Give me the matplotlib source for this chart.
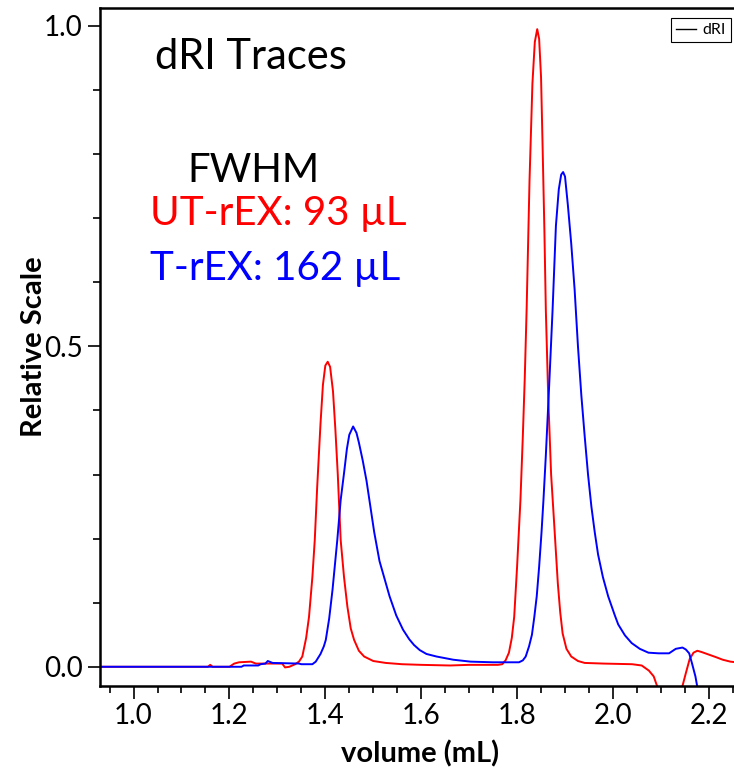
import matplotlib
matplotlib.use('Agg')
import matplotlib.pyplot as plt
from matplotlib.lines import Line2D
from matplotlib.ticker import MultipleLocator, FormatStrFormatter

plt.rcParams['font.family'] = ['Lato', 'DejaVu Sans']

# UT-rEX trace (red)
ut_vol = [0.93, 1.155, 1.16, 1.165, 1.20, 1.21, 1.22, 1.245, 1.255, 1.31, 1.316, 1.325,
          1.337, 1.345, 1.352, 1.360, 1.366, 1.373, 1.378, 1.383, 1.390, 1.395, 1.400,
          1.405, 1.410, 1.416, 1.421, 1.426, 1.432, 1.439, 1.446, 1.453, 1.460, 1.470,
          1.481, 1.50, 1.526, 1.56, 1.60, 1.66, 1.70, 1.76, 1.769, 1.776, 1.783, 1.789,
          1.794, 1.800, 1.807, 1.812, 1.816, 1.820, 1.826, 1.832, 1.837, 1.842, 1.846,
          1.850, 1.853, 1.857, 1.860, 1.865, 1.871, 1.876, 1.885, 1.890, 1.895, 1.903,
          1.913, 1.927, 1.941, 1.98, 2.04, 2.06, 2.075, 2.085, 2.092, 2.096, 2.138, 2.145,
          2.152, 2.160, 2.168, 2.176, 2.185, 2.20, 2.215, 2.229, 2.245, 2.27]
ut_dri = [0.0, 0.0, 0.003, 0.0, 0.0, 0.005, 0.007, 0.008, 0.005, 0.005, -0.001, 0.0,
          0.004, 0.008, 0.016, 0.045, 0.078, 0.14, 0.198, 0.28, 0.38, 0.44, 0.47,
          0.476, 0.468, 0.43, 0.37, 0.30, 0.198, 0.14, 0.094, 0.06, 0.042, 0.025,
          0.016, 0.009, 0.006, 0.004, 0.003, 0.002, 0.003, 0.003, 0.004, 0.01, 0.022, 0.045,
          0.078, 0.156, 0.26, 0.36, 0.45, 0.56, 0.76, 0.91, 0.975, 0.995, 0.98,
          0.92, 0.82, 0.68, 0.556, 0.42, 0.30, 0.24, 0.13, 0.085, 0.052, 0.028,
          0.016, 0.009, 0.006, 0.005, 0.004, 0.002, -0.006, -0.015, -0.03, -0.05, -0.05, -0.03,
          -0.01, 0.012, 0.022, 0.025, 0.023, 0.019, 0.015, 0.011, 0.008, 0.006]

# T-rEX trace (blue)
t_vol = [0.93, 1.225, 1.23, 1.26, 1.265, 1.275, 1.28, 1.29, 1.345, 1.35, 1.373, 1.380,
         1.390, 1.397, 1.401, 1.408, 1.415, 1.425, 1.432, 1.439, 1.445, 1.450,
         1.458, 1.465, 1.470, 1.478, 1.486, 1.495, 1.502, 1.513, 1.534, 1.548, 1.562,
         1.575, 1.585, 1.597, 1.611, 1.632, 1.667, 1.703, 1.75, 1.804, 1.812, 1.818,
         1.825, 1.831, 1.836, 1.841, 1.846, 1.851, 1.855, 1.860, 1.867, 1.874, 1.881, 1.887,
         1.892, 1.896, 1.900, 1.906, 1.913, 1.920, 1.927, 1.934, 1.941, 1.948, 1.955,
         1.962, 1.969, 1.979, 1.990, 2.004, 2.011, 2.025, 2.039, 2.056, 2.074, 2.095,
         2.117, 2.131, 2.145, 2.152, 2.159, 2.165, 2.172, 2.178]
t_dri = [0.0, 0.0, 0.002, 0.002, 0.004, 0.005, 0.009, 0.006, 0.005, 0.004, 0.004, 0.008,
         0.02, 0.032, 0.042, 0.075, 0.12, 0.198, 0.26, 0.302, 0.34, 0.362,
         0.375, 0.365, 0.35, 0.322, 0.29, 0.245, 0.21, 0.165, 0.11, 0.08, 0.058,
         0.043, 0.034, 0.026, 0.020, 0.016, 0.011, 0.008, 0.007, 0.007, 0.01, 0.016,
         0.032, 0.05, 0.078, 0.11, 0.156, 0.21, 0.26, 0.33, 0.44, 0.556, 0.688, 0.745,
         0.768, 0.772, 0.765, 0.72, 0.66, 0.589, 0.50, 0.424, 0.36, 0.30, 0.25,
         0.21, 0.175, 0.14, 0.11, 0.08, 0.066, 0.049, 0.037, 0.028, 0.022, 0.021,
         0.021, 0.028, 0.030, 0.027, 0.021, 0.005, -0.015, -0.04]

fig = plt.figure(figsize=(7.34, 7.69), dpi=100)
ax = fig.add_axes([100 / 734, 83 / 769, 640 / 734, 678 / 769])

ax.plot(ut_vol, ut_dri, color='#ff0000', lw=1.4)
ax.plot(t_vol, t_dri, color='#0000ff', lw=1.4)

ax.set_xlim(0.93, 2.265)
ax.set_ylim(-0.03, 1.028)

ax.xaxis.set_major_locator(MultipleLocator(0.2))
ax.xaxis.set_minor_locator(MultipleLocator(0.05))
ax.yaxis.set_major_locator(MultipleLocator(0.5))
ax.yaxis.set_minor_locator(MultipleLocator(0.1))
ax.xaxis.set_major_formatter(FormatStrFormatter('%.1f'))
ax.yaxis.set_major_formatter(FormatStrFormatter('%.1f'))
ax.tick_params(which='major', length=9, width=1.2, labelsize=20, direction='out')
ax.tick_params(which='minor', length=5, width=1.2, direction='out')

for s in ax.spines.values():
    s.set_linewidth(1.8)

ax.set_xlabel('volume (mL)', fontsize=21, fontweight='bold', labelpad=8)
ax.set_ylabel('Relative Scale', fontsize=21, fontweight='bold', labelpad=-2)

handle = Line2D([], [], color='black', lw=1)
leg = ax.legend([handle], ['dRI'], loc='upper right', bbox_to_anchor=(0.986, 0.985),
                borderaxespad=0, fontsize=11.5, handlelength=1.3, handletextpad=0.4,
                borderpad=0.3, fancybox=False, framealpha=1)
leg.get_frame().set_edgecolor('black')
leg.get_frame().set_linewidth(0.8)

fig.text(155 / 734, 1 - 57 / 769, 'dRI Traces', fontsize=30, va='center', ha='left')
fig.text(187 / 734, 1 - 170 / 769, 'FWHM', fontsize=29, va='center', ha='left')
fig.text(150 / 734, 1 - 213 / 769, 'UT-rEX: 93 µL', fontsize=29, va='center', ha='left',
         color='#ff0000')
fig.text(150 / 734, 1 - 268 / 769, 'T-rEX: 162 µL', fontsize=29, va='center', ha='left',
         color='#0000ff')

fig.savefig('out.png', dpi=100)
